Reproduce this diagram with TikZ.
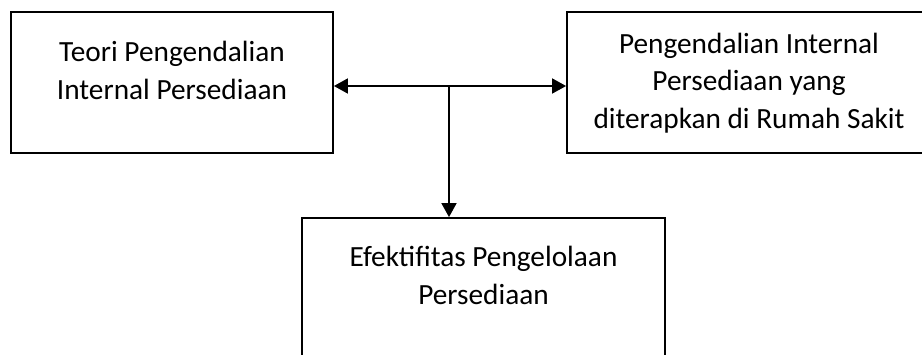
\documentclass[tikz,border=0pt]{standalone}
\usepackage{fontspec}
\setmainfont{Carlito}
\usetikzlibrary{arrows.meta}

\tikzset{
  panel/.style={draw=black, line width=1.8pt, rectangle, inner sep=0pt, fill=white},
  caption/.style={align=center, inner sep=0pt, anchor=base,
    font=\fontsize{29.3}{37.5}\selectfont},
  link/.style={draw=black, line width=1.8pt,
    -{Triangle[length=14pt,width=15pt]}},
  twolink/.style={draw=black, line width=1.8pt,
    {Triangle[length=14pt,width=15pt]}-{Triangle[length=14pt,width=15pt]}}
}

\begin{document}
\begin{tikzpicture}[x=1pt, y=-1pt]
  % page frame
  \fill[white] (0,0) rectangle (922,354);
  \useasboundingbox (0,0) rectangle (922,354);

  % the three boxes
  \node[panel, minimum width=322pt, minimum height=141pt] (teori) at (172,82.5) {};
  \node[panel, minimum width=364pt, minimum height=141pt] (rs) at (749,82.5) {};
  \node[panel, minimum width=363pt, minimum height=162pt] (efek) at (483.5,299) {};

  % their texts (placed by the baseline of the last line)
  \node[caption] (tteori) at (172,99) {Teori Pengendalian\\Internal Persediaan};
  \node[caption] (trs) at (749,128) {Pengendalian Internal\\Persediaan yang\\diterapkan di Rumah Sakit};
  \node[caption] (tefek) at (483.5,304) {Efektifitas Pengelolaan\\Persediaan};

  % connectors
  \coordinate (hub) at (449,86);
  \draw[twolink] (hub -| teori.east) -- (hub -| rs.west);
  \draw[link] (hub) -- (hub |- efek.north);
\end{tikzpicture}
\end{document}
